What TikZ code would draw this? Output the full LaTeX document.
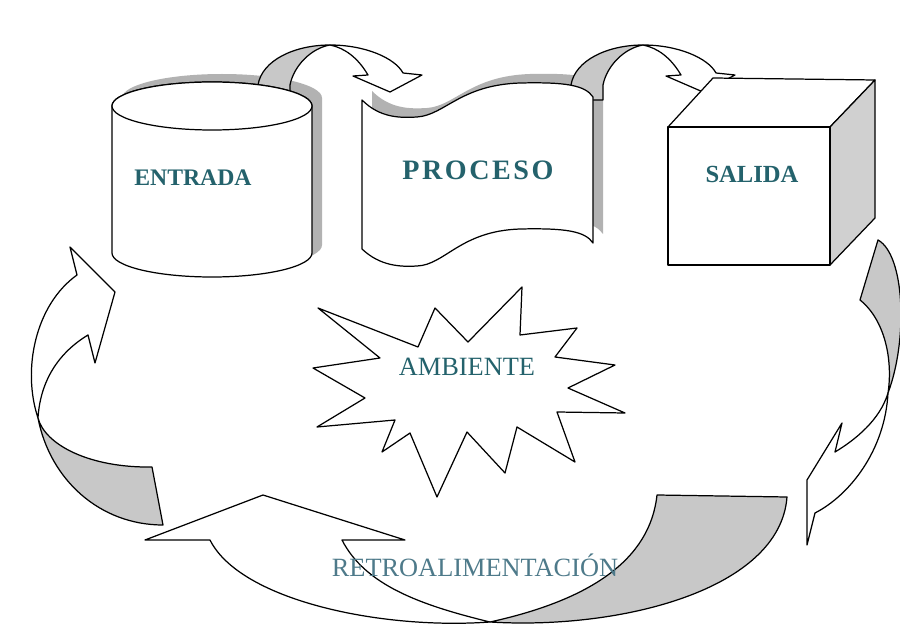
\documentclass[tikz,border=0pt]{standalone}
\usepackage{fontspec}
\setmainfont{Liberation Serif}

\definecolor{labelteal}{RGB}{36,98,108}
\definecolor{retroblue}{RGB}{78,122,138}
\definecolor{ribbongray}{RGB}{200,200,200}
\definecolor{shadowgray}{RGB}{178,178,178}

\tikzset{
  outline/.style={draw=black, line width=0.7pt, line join=round, fill=white},
  ribbonback/.style={outline, fill=ribbongray},
  dropshadow/.style={fill=shadowgray, draw=none},
  boxlabel/.style={font=\bfseries\fontsize{13.5}{15}\selectfont, text=labelteal},
  flowlabel/.style={font=\fontsize{15}{17}\selectfont, text=labelteal}
}

% outlines used twice (shape and its shadow)
\newcommand{\drumoutline}{(112,106) -- (112,253) arc[start angle=180, end angle=0, x radius=100, y radius=24] -- (312,106) arc[start angle=0, end angle=-180, x radius=100, y radius=24] -- cycle}
\newcommand{\tapeoutline}{(362,100) .. controls (380,118) and (400,118) .. (417,117) .. controls (445,115) and (460,85) .. (520,83) .. controls (565,82) and (585,85) .. (593,97) -- (593,243) .. controls (585,231) and (565,228) .. (520,229) .. controls (460,231) and (445,265) .. (417,266) .. controls (400,267) and (380,266) .. (362,249) -- cycle}

\begin{document}
\begin{tikzpicture}[x=0.02cm, y=-0.02cm]
  % canvas
  \path[fill=white, use as bounding box] (0,0) rectangle (900,628);

  % Shadows
  \path[dropshadow, shift={(10,-8)}] \drumoutline;
  \path[dropshadow, shift={(10,-9)}] \tapeoutline;

  % Top curved arrows
  \foreach \dx in {0,313} {
    \path[ribbonback, shift={(\dx,0)}] (258,100) -- (258,85) .. controls (262,60) and (295,45) .. (330,45)
      .. controls (312,48) and (294,65) .. (290,85) -- (290,100) -- cycle;
    \path[outline, shift={(\dx,0)}] (330,45) .. controls (365,45) and (395,58) .. (403,73) -- (422,75) -- (390,92)
      -- (353,76) -- (368,75) .. controls (358,58) and (345,48) .. (330,45) -- cycle;
  }

  % Entrada (cylinder)
  \path[outline] \drumoutline;
  \draw[outline] (212,106) ellipse [x radius=100, y radius=24];
  \node[boxlabel] (entrada) at (193,178) {ENTRADA};

  % Proceso (tape)
  \path[outline] \tapeoutline;
  \node[boxlabel, font=\bfseries\fontsize{16}{18}\selectfont\addfontfeature{LetterSpace=9}] (proceso) at (478,170) {PROCESO};

  % Salida (cube)
  \draw[outline] (668,127) -- (713,78) -- (875,80) -- (830,127) -- cycle;
  \draw[outline, fill=ribbongray!85] (830,127) -- (875,80) -- (875,218) -- (830,265) -- cycle;
  \draw[outline] (668,127) rectangle (830,265);
  \node[boxlabel, font=\bfseries\fontsize{14}{16}\selectfont] (salida) at (752,174) {SALIDA};

  % Left arrow
  \path[ribbonback] (38,418) .. controls (45,445) and (90,468) .. (152,467) -- (163,525)
    .. controls (100,525) and (50,480) .. (38,418) -- cycle;
  \path[outline] (38,418) .. controls (22,370) and (35,305) .. (77,275) -- (70,247) -- (115,292)
    -- (95,363) -- (88,335) .. controls (55,355) and (40,385) .. (38,418) -- cycle;

  % Right arrow
  \path[ribbonback] (860,300) -- (878,240) .. controls (905,255) and (908,340) .. (888,393)
    .. controls (893,360) and (885,320) .. (860,300) -- cycle;
  \path[outline] (888,393) .. controls (885,450) and (850,495) .. (815,513) -- (807,545) -- (807,480)
    -- (842,423) -- (835,452) .. controls (855,440) and (880,420) .. (888,393) -- cycle;

  % Bottom arrow
  \path[ribbonback] (490,622) .. controls (590,600) and (650,560) .. (657,495) -- (787,497)
    .. controls (780,590) and (620,630) .. (490,622) -- cycle;
  \path[outline] (490,622) .. controls (420,605) and (365,585) .. (342,540) -- (405,540) -- (263,495)
    -- (145,540) -- (210,540) .. controls (240,600) and (380,630) .. (490,622) -- cycle;

  % Ambiente (star)
  \draw[outline] (318,308) -- (418,347) -- (435,308) -- (468,342) -- (522,287) -- (520,335)
    -- (577,328) -- (555,357) -- (615,365) -- (568,388) -- (625,413) -- (557,412)
    -- (575,462) -- (517,427) -- (505,473) -- (467,432) -- (437,497) -- (410,433)
    -- (382,452) -- (395,420) -- (317,427) -- (365,398) -- (313,368) -- (380,358) -- cycle;
  \node[flowlabel] (ambiente) at (467,367) {AMBIENTE};

  % Feedback label
  \node[flowlabel, text=retroblue] (retro) at (475,565) {RETROALIMENTACIÓN};
\end{tikzpicture}
\end{document}
